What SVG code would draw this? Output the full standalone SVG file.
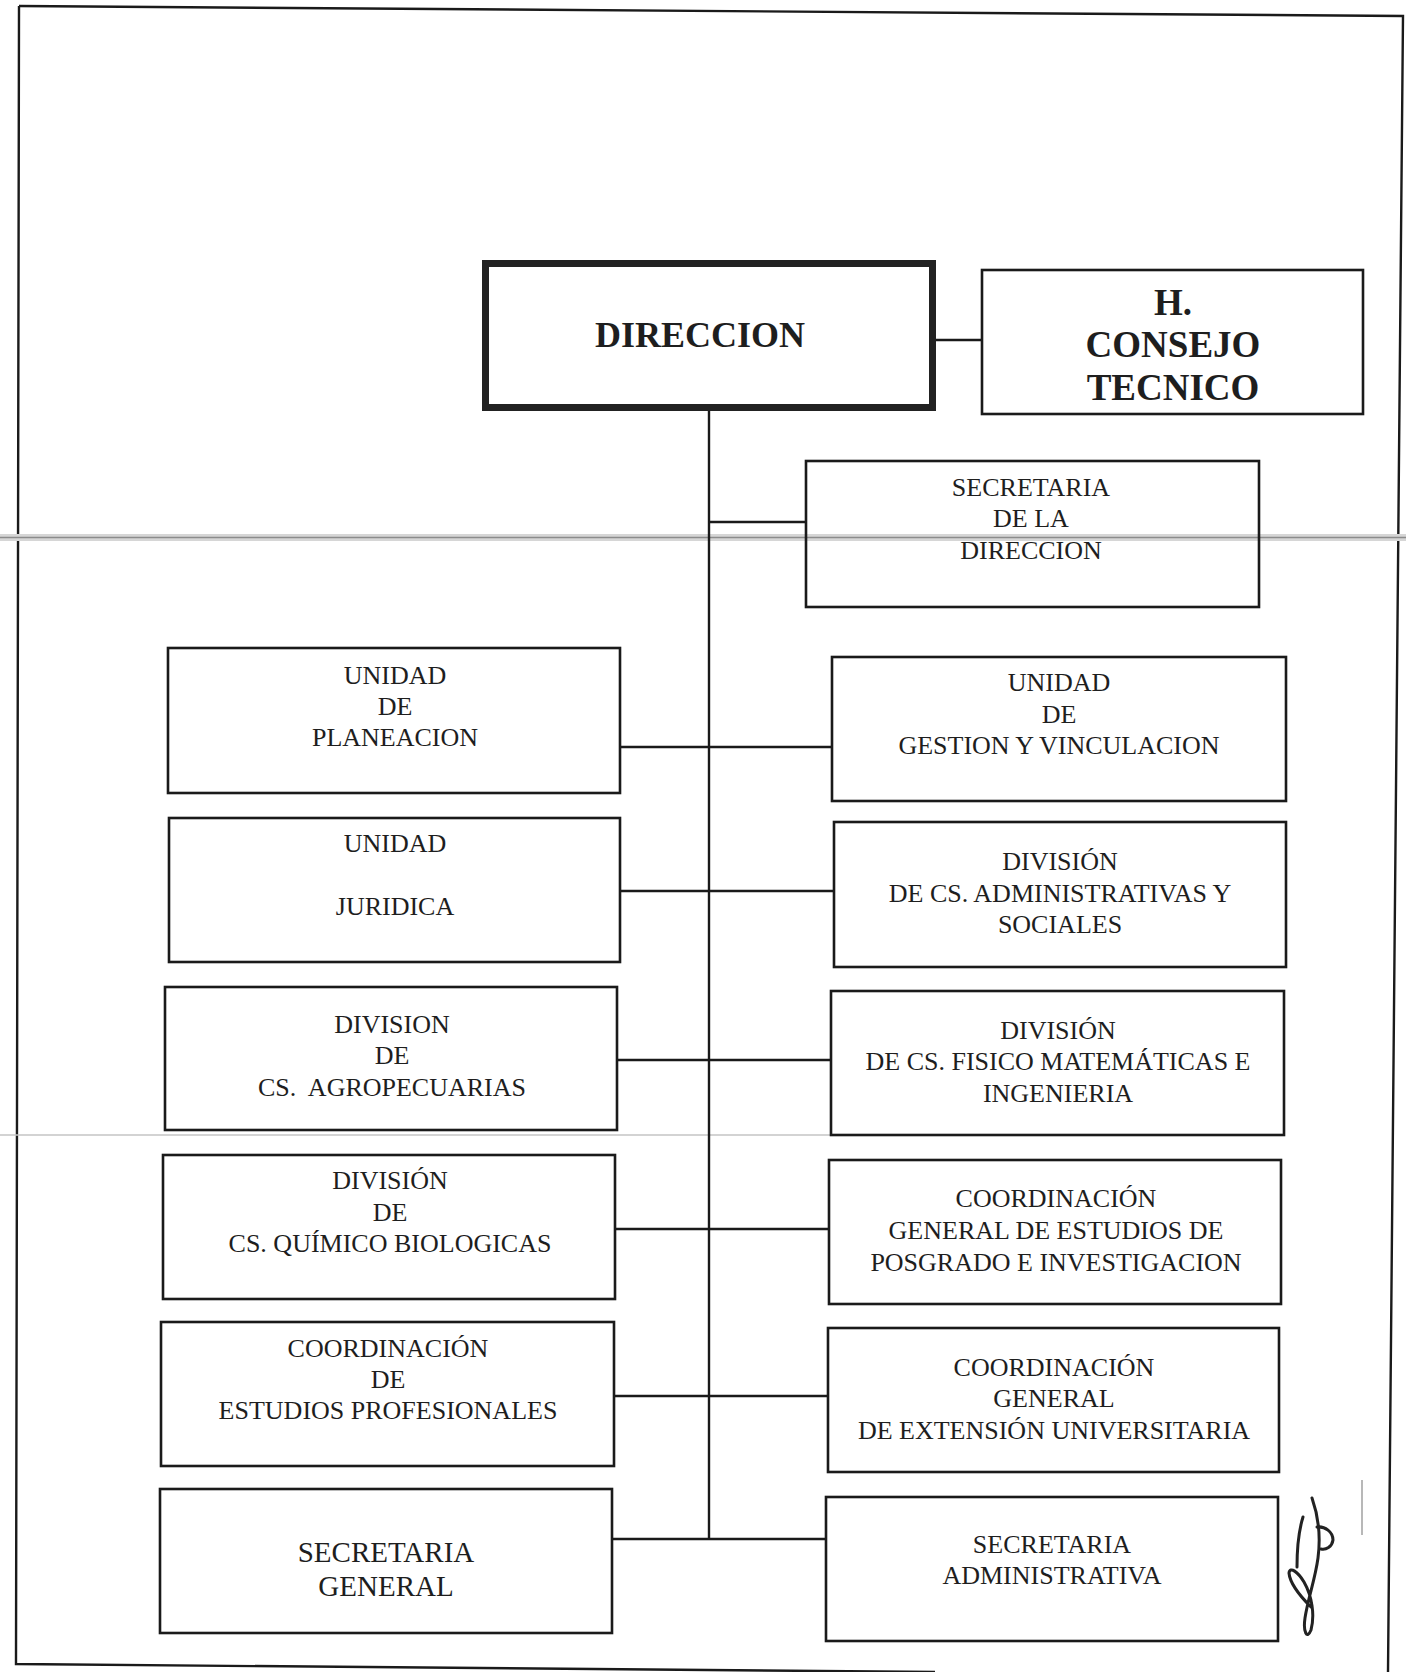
<svg xmlns="http://www.w3.org/2000/svg" width="1406" height="1672" viewBox="0 0 1406 1672">
  <style>
    .box { fill: none; stroke: #1a1a1a; stroke-width: 2.6; }
    .main { fill: none; stroke: #222; stroke-width: 7; }
    .t { font-family: "Liberation Serif", "Times New Roman", serif; font-size: 26px; fill: #1e1e1e; text-anchor: middle; }
    .big { font-size: 29px; }
    .b { font-family: "Liberation Serif", "Times New Roman", serif; font-weight: bold; fill: #1e1e1e; text-anchor: middle; }
    .link { stroke: #1a1a1a; stroke-width: 2.4; fill: none; }
    .frame { stroke: #1a1a1a; stroke-width: 2.4; fill: none; }
  </style>
  <rect width="1406" height="1672" fill="#ffffff"/>

  <!-- page frame -->
  <g id="frame">
    <path class="frame" d="M19,6 L1403,16 L1388,1672"/>
    <path class="frame" d="M19,6 L16,1664 L935,1672"/>
    <!-- fold marks across the sheet -->
    <rect x="0" y="534" width="1406" height="7" fill="#d6d6d6"/>
    <line x1="0" y1="537.5" x2="1406" y2="537.5" stroke="#8c8c8c" stroke-width="1.6"/>
    <line x1="0" y1="1135" x2="900" y2="1135" stroke="#c4c4c4" stroke-width="1.5"/>
    <line x1="1362" y1="1480" x2="1362" y2="1535" stroke="#9a9a9a" stroke-width="1.4"/>
  </g>

  <!-- connectors -->
  <g id="connectors">
    <line class="link" x1="936" y1="340" x2="981" y2="340"/>
    <line class="link" x1="709" y1="411" x2="709" y2="1539"/>
    <line class="link" x1="709" y1="522" x2="805" y2="522"/>
    <line class="link" x1="621" y1="747" x2="831" y2="747"/>
    <line class="link" x1="621" y1="891" x2="833" y2="891"/>
    <line class="link" x1="618" y1="1060" x2="830" y2="1060"/>
    <line class="link" x1="616" y1="1229" x2="828" y2="1229"/>
    <line class="link" x1="615" y1="1396" x2="827" y2="1396"/>
    <line class="link" x1="613" y1="1539" x2="825" y2="1539"/>
  </g>

  <g id="direccion">
    <rect class="main" x="485.5" y="263.5" width="447" height="144"/>
    <text class="b" x="700" y="347" font-size="36">DIRECCION</text>
  </g>

  <g id="consejo-tecnico">
    <rect class="box" x="982" y="270" width="381" height="144"/>
    <text class="b" x="1173" y="315" font-size="37">H.</text>
    <text class="b" x="1173" y="357" font-size="37">CONSEJO</text>
    <text class="b" x="1173" y="400" font-size="37">TECNICO</text>
  </g>

  <g id="secretaria-direccion">
    <rect class="box" x="806" y="461" width="453" height="146"/>
    <text class="t" x="1031" y="496">SECRETARIA</text>
    <text class="t" x="1031" y="527">DE LA</text>
    <text class="t" x="1031" y="559">DIRECCION</text>
  </g>

  <!-- left column -->
  <g id="unidad-planeacion">
    <rect class="box" x="168" y="648" width="452" height="145"/>
    <text class="t" x="395" y="684">UNIDAD</text>
    <text class="t" x="395" y="715">DE</text>
    <text class="t" x="395" y="746">PLANEACION</text>
  </g>

  <g id="unidad-juridica">
    <rect class="box" x="169" y="818" width="451" height="144"/>
    <text class="t" x="395" y="852">UNIDAD</text>
    <text class="t" x="395" y="915">JURIDICA</text>
  </g>

  <g id="division-agropecuarias">
    <rect class="box" x="165" y="987" width="452" height="143"/>
    <text class="t" x="392" y="1033">DIVISION</text>
    <text class="t" x="392" y="1064">DE</text>
    <text class="t" x="392" y="1096" xml:space="preserve">CS.  AGROPECUARIAS</text>
  </g>

  <g id="division-quimico-biologicas">
    <rect class="box" x="163" y="1155" width="452" height="144"/>
    <text class="t" x="390" y="1189">DIVISIÓN</text>
    <text class="t" x="390" y="1221">DE</text>
    <text class="t" x="390" y="1252">CS. QUÍMICO BIOLOGICAS</text>
  </g>

  <g id="coordinacion-estudios-profesionales">
    <rect class="box" x="161" y="1322" width="453" height="144"/>
    <text class="t" x="388" y="1357">COORDINACIÓN</text>
    <text class="t" x="388" y="1388">DE</text>
    <text class="t" x="388" y="1419">ESTUDIOS PROFESIONALES</text>
  </g>

  <g id="secretaria-general">
    <rect class="box" x="160" y="1489" width="452" height="144"/>
    <text class="t big" x="386" y="1562">SECRETARIA</text>
    <text class="t big" x="386" y="1596">GENERAL</text>
  </g>

  <!-- right column -->
  <g id="unidad-gestion-vinculacion">
    <rect class="box" x="832" y="657" width="454" height="144"/>
    <text class="t" x="1059" y="691">UNIDAD</text>
    <text class="t" x="1059" y="723">DE</text>
    <text class="t" x="1059" y="754">GESTION Y VINCULACION</text>
  </g>

  <g id="division-administrativas-sociales">
    <rect class="box" x="834" y="822" width="452" height="145"/>
    <text class="t" x="1060" y="870">DIVISIÓN</text>
    <text class="t" x="1060" y="902">DE CS. ADMINISTRATIVAS Y</text>
    <text class="t" x="1060" y="933">SOCIALES</text>
  </g>

  <g id="division-fisico-matematicas">
    <rect class="box" x="831" y="991" width="453" height="144"/>
    <text class="t" x="1058" y="1039">DIVISIÓN</text>
    <text class="t" x="1058" y="1070">DE CS. FISICO MATEMÁTICAS E</text>
    <text class="t" x="1058" y="1102">INGENIERIA</text>
  </g>

  <g id="coordinacion-posgrado-investigacion">
    <rect class="box" x="829" y="1160" width="452" height="144"/>
    <text class="t" x="1056" y="1207">COORDINACIÓN</text>
    <text class="t" x="1056" y="1239">GENERAL DE ESTUDIOS DE</text>
    <text class="t" x="1056" y="1271">POSGRADO E INVESTIGACION</text>
  </g>

  <g id="coordinacion-extension-universitaria">
    <rect class="box" x="828" y="1328" width="451" height="144"/>
    <text class="t" x="1054" y="1376">COORDINACIÓN</text>
    <text class="t" x="1054" y="1407">GENERAL</text>
    <text class="t" x="1054" y="1439">DE EXTENSIÓN UNIVERSITARIA</text>
  </g>

  <g id="secretaria-administrativa">
    <rect class="box" x="826" y="1497" width="452" height="144"/>
    <text class="t" x="1052" y="1553">SECRETARIA</text>
    <text class="t" x="1052" y="1584">ADMINISTRATIVA</text>
  </g>

  <!-- handwritten initials beside the last box -->
  <g id="initials" fill="none" stroke="#222" stroke-width="3" stroke-linecap="round" stroke-linejoin="round">
    <path d="M1312,1498 C1318,1515 1321,1535 1318,1558 C1315,1580 1308,1598 1305,1618 C1303,1632 1307,1640 1311,1630 C1315,1615 1312,1596 1304,1582 C1298,1572 1290,1566 1289,1573 C1290,1584 1302,1598 1311,1607"/>
    <path d="M1303,1517 C1299,1530 1297,1548 1297,1567"/>
    <path d="M1317,1527 C1325,1526 1333,1532 1333,1540 C1332,1547 1326,1550 1321,1549"/>
  </g>
</svg>
